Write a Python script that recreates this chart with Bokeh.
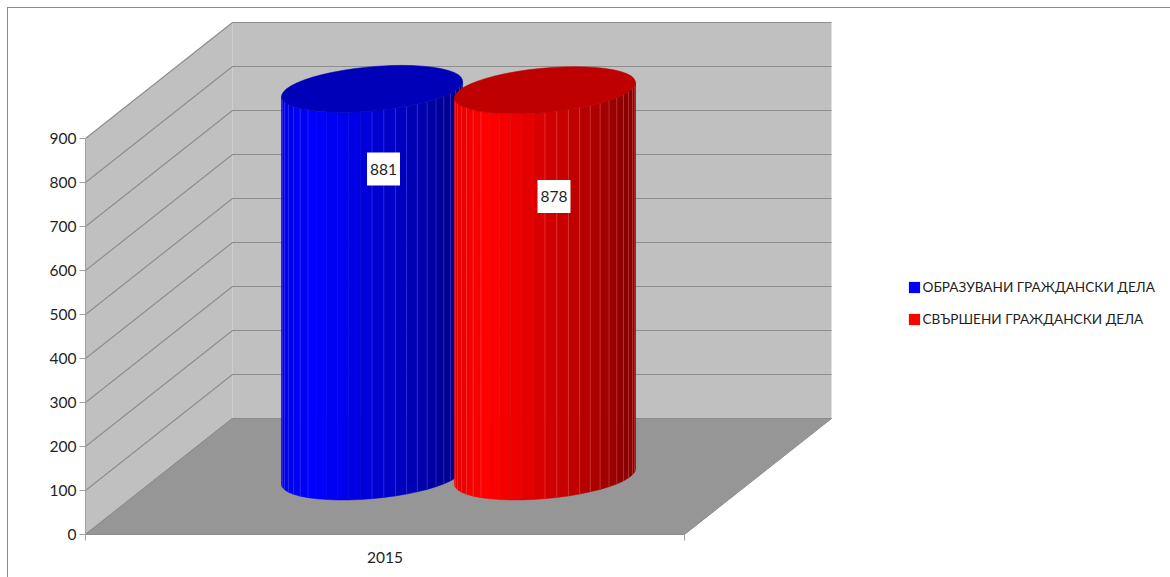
import math
from bokeh.plotting import figure
from bokeh.embed import file_html
from bokeh.resources import INLINE
from bokeh.core.properties import value
from bokeh.models import FixedTicker, Legend, LegendItem, InlineStyleSheet, LinearAxis, Range1d

categories = ["2015"]
series_names = ["ОБРАЗУВАНИ ГРАЖДАНСКИ ДЕЛА", "СВЪРШЕНИ ГРАЖДАНСКИ ДЕЛА"]
series_values = [881, 878]
y_ticks = [0, 100, 200, 300, 400, 500, 600, 700, 800, 900]

FONT = "Lato"
INK = "#1f1f1f"
LINE = "#8e8e8e"

# scales: 1 x unit = the width of the category axis, y units = values
X_PX = 599.0
Y_PX = 396.0 / 900.0
DEPTH_X = 147.0 / X_PX      # x shift of the back wall, in x units
DEPTH_Y = 116.0 / Y_PX      # y shift of the back wall, in value units
ymax = y_ticks[-1]


def project(x, y, d):
    return x + d * DEPTH_X, y + d * DEPTH_Y


p = figure(width=1170, height=577, output_backend="svg", toolbar_location=None,
           x_range=Range1d(0, 1085 / X_PX), y_range=Range1d(0, 534 / Y_PX),
           x_axis_type=None, y_axis_type=None,
           min_border_left=85, min_border_right=0, min_border_top=0, min_border_bottom=43,
           outline_line_color=None, background_fill_color="white", border_fill_color="white")
p.grid.visible = False
p.stylesheets = [InlineStyleSheet(css=":host::before{content:'';position:fixed;left:7px;top:7px;"
                                      "width:1163px;height:570px;box-sizing:border-box;z-index:100;"
                                      "border-left:1px solid #8c8c8c;border-top:1px solid #8c8c8c;"
                                      "pointer-events:none;}")]

# axes
ya = LinearAxis(ticker=FixedTicker(ticks=y_ticks), bounds=(0, ymax))
ya.axis_line_color = "#a0a0a0"
ya.major_tick_line_color = "#a0a0a0"
ya.major_tick_in = 0
ya.major_tick_out = 6
ya.minor_tick_line_color = None
ya.major_label_standoff = 3
ya.major_label_text_font = FONT
ya.major_label_text_font_size = "15.5px"
ya.major_label_text_color = INK
p.add_layout(ya, "left")

xa = LinearAxis(ticker=FixedTicker(ticks=[0.5], minor_ticks=[0, 1]), bounds=(0, 1),
                major_label_overrides={0.5: categories[0]})
xa.axis_line_color = "#8c8c8c"
xa.major_tick_line_color = None
xa.major_tick_in = 0
xa.major_tick_out = 0
xa.minor_tick_line_color = "#a0a0a0"
xa.minor_tick_in = 0
xa.minor_tick_out = 6
xa.major_label_standoff = 11
xa.major_label_text_font = FONT
xa.major_label_text_font_size = "15.5px"
xa.major_label_text_color = INK
p.add_layout(xa, "below")

# walls and floor
corners = [project(0, 0, 0), project(0, 0, 1), project(0, ymax, 1), project(0, ymax, 0)]
p.patch([c[0] for c in corners], [c[1] for c in corners], fill_color="#c0c0c0", line_color=None)
corners = [project(0, 0, 1), project(1, 0, 1), project(1, ymax, 1), project(0, ymax, 1)]
p.patch([c[0] for c in corners], [c[1] for c in corners], fill_color="#c0c0c0", line_color=None)

gx, gy = [], []
for t in y_ticks:
    a, b, c = project(0, t, 0), project(0, t, 1), project(1, t, 1)
    gx.append([a[0], b[0], c[0]])
    gy.append([a[1], b[1], c[1]])
p.multi_line(gx, gy, line_color=LINE, line_width=1.2)

corners = [project(0, 0, 0), project(1, 0, 0), project(1, 0, 1), project(0, 0, 1)]
p.patch([c[0] for c in corners], [c[1] for c in corners], fill_color="#969696",
        line_color="#8c8c8c", line_width=1)

# cylinders
RX = 85.5 / X_PX
RD = 0.2026
CENTERS = [0.3556, 0.6444]
PHI = math.degrees(math.atan2(RD * 147.0, 85.5))
STEP = 7.5
SHADE_U = [0.0, 0.18, 0.40, 0.60, 0.80, 1.0]
SHADE_V = [0.90, 1.0, 0.90, 0.78, 0.66, 0.50]
BASES = [(0, 0, 1), (1, 0, 0)]
TOPS = ["#0000b9", "#bf0000"]
LINES = ["#5a5aff", "#ff6a6a"]


def shade(u):
    for i in range(len(SHADE_U) - 1):
        if u <= SHADE_U[i + 1]:
            f = (u - SHADE_U[i]) / (SHADE_U[i + 1] - SHADE_U[i])
            return SHADE_V[i] + f * (SHADE_V[i + 1] - SHADE_V[i])
    return SHADE_V[-1]


def rim(xc, val, th):
    r = math.radians(th)
    return project(xc + RX * math.cos(r), val, 0.5 + RD * math.sin(r))


legend_items = []
nan = float("nan")
for i, v in enumerate(series_values):
    xc = CENTERS[i]
    base = BASES[i]
    n = int(round(180 / STEP))
    xs, ys, colors = [], [], []
    lx, ly = [], []
    xl = rim(xc, 0, 180 + PHI)[0]
    xr = rim(xc, 0, PHI)[0]
    for k in range(n):
        t0 = 180 + PHI + k * STEP
        t1 = t0 + STEP
        a0, a1 = rim(xc, 0, t0), rim(xc, 0, t1)
        b0, b1 = rim(xc, v, t0), rim(xc, v, t1)
        xs.append([a0[0], a1[0], b1[0], b0[0]])
        ys.append([a0[1], a1[1], b1[1], b0[1]])
        u = ((a0[0] + a1[0]) / 2 - xl) / (xr - xl)
        s = shade(u)
        colors.append("#%02x%02x%02x" % tuple(int(round(255 * s * c)) for c in base))
        if not 0.18 < u < 0.50 and k > 0:
            lx.append([a0[0], b0[0]])
            ly.append([a0[1], b0[1]])
    p.patches(xs, ys, fill_color=colors, line_color=colors, line_width=0.5)
    p.multi_line(lx, ly, line_color=LINES[i], line_alpha=0.4, line_width=1)
    pts = [rim(xc, v, th * STEP) for th in range(int(360 / STEP))]
    p.patch([q[0] for q in pts], [q[1] for q in pts], fill_color=TOPS[i], line_color=TOPS[i], line_width=0.5)
    swatch = p.quad(left=[nan], right=[nan], top=[nan], bottom=[nan],
                    fill_color="#%02x%02x%02x" % tuple(255 * c for c in base), line_color=None)
    legend_items.append(LegendItem(label=series_names[i], renderers=[swatch]))

# data labels
label_x = [(383 - 85) / X_PX, (553.5 - 85) / X_PX]
label_y = [(534 - 168.5) / Y_PX, (534 - 196) / Y_PX]
p.rect(label_x, label_y, width=33, height=33, width_units="screen", height_units="screen",
       fill_color="white", line_color=None)
p.text(label_x, label_y, text=[str(v) for v in series_values], text_font=value(FONT),
       text_font_size="15.5px", text_color=INK, text_align="center", text_baseline="middle")

legend = Legend(items=legend_items, location=(821.5, 205), orientation="vertical",
                glyph_width=14, glyph_height=14, label_standoff=2, spacing=11,
                padding=0, margin=0, background_fill_alpha=0, border_line_color=None,
                label_text_font=FONT, label_text_font_size="13.6px", label_text_color=INK,
                label_height=21)
p.add_layout(legend, "center")

open("out.html", "w").write(file_html(p, INLINE))
